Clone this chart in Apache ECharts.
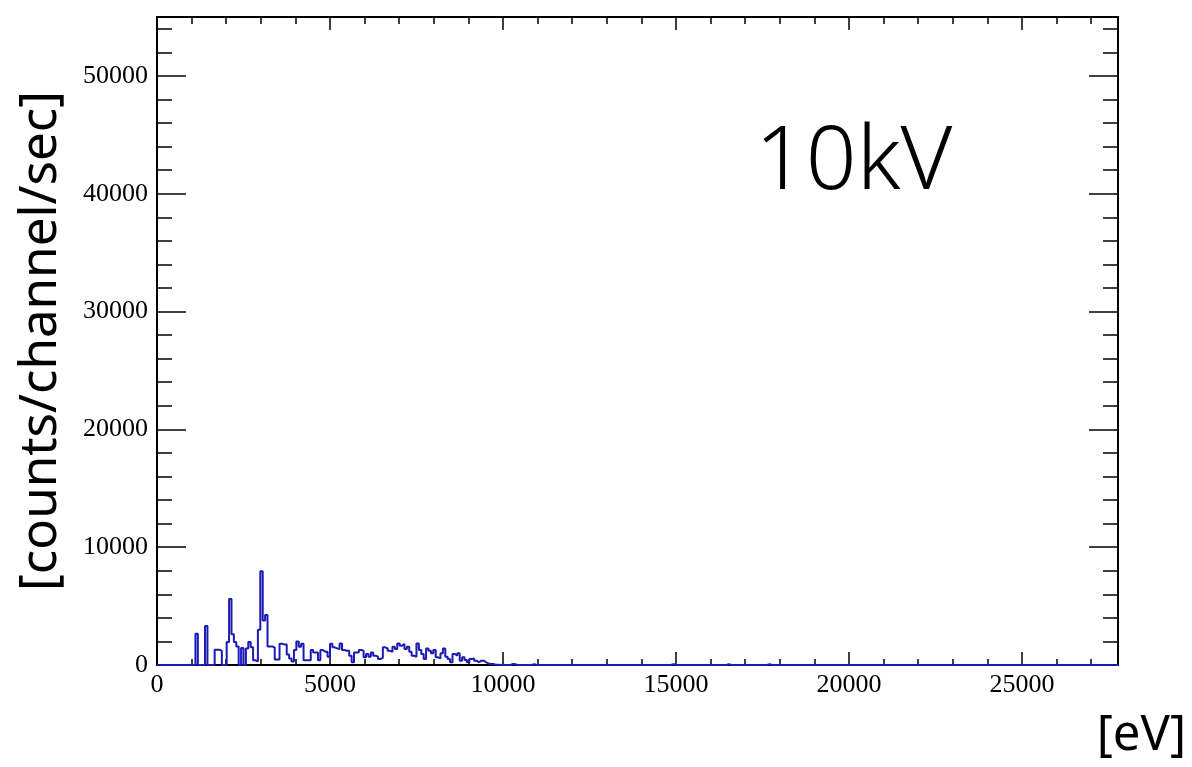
<!DOCTYPE html>
<html>
<head>
<meta charset="utf-8">
<title>10kV spectrum</title>
<script src="https://cdn.jsdelivr.net/npm/echarts@6/dist/echarts.min.js"></script>
<style>
  html, body { margin: 0; padding: 0; background: #ffffff; }
  #chart { width: 1192px; height: 767px; }
</style>
</head>
<body>
<div id="chart"></div>
<script>
// Spectrum: counts per channel per second, 400 channels over the energy range
const binWidth = 69.44;          // eV per channel
const channelCount = 400;
const xMax = 27776;              // eV, upper edge of the last channel
const yMax = 55000;

// channel index -> counts/channel/sec (channels not listed are empty)
const peakChannels = [16, 20, 24, 25, 26, 29, 30, 31, 32, 33, 35, 37, 38, 39, 40, 41, 42, 43, 44, 45, 46, 47, 48, 49, 50];
const peakCounts   = [2650, 3300, 1300, 1300, 1200, 1950, 5600, 2600, 1950, 1570, 1450, 1400, 1950, 1500, 400, 300, 3000, 7950, 3770, 4250, 1570, 1570, 1500, 460, 460];

// continuum, channels 51 .. 143
const continuumStart = 51;
const continuumCounts = [
  1800, 1750, 1750, 900, 560, 300, 1270, 2000, 1550, 1800,
  400, 400, 400, 1270, 1070, 1070, 400, 1270, 1130, 1130,
  700, 1800, 1500, 1410, 1350, 1830, 1270, 1210, 1210, 790,
  230, 1070, 1070, 1270, 1210, 650, 930, 700, 1070, 790,
  700, 510, 600, 1500, 1400, 1200, 1130, 1550, 1350, 1830,
  1640, 1780, 1350, 1550, 1130, 790, 700, 1830, 1270, 930,
  510, 1410, 1210, 990, 1270, 650, 560, 990, 1410, 700,
  510, 230, 930, 790, 990, 370, 650, 420, 230, 510,
  560, 370, 230, 370, 370, 230, 140, 80, 80, 30,
  30, 0, 30
];

// isolated weak channels in the high-energy tail
const tailChannels = [147, 148, 156, 214, 237, 254];
const tailCounts   = [80, 80, 80, 80, 80, 80];

// assemble the full channel array
const counts = new Array(channelCount).fill(0);
peakChannels.forEach((c, k) => { counts[c] = peakCounts[k]; });
continuumCounts.forEach((v, k) => { counts[continuumStart + k] = v; });
tailChannels.forEach((c, k) => { counts[c] = tailCounts[k]; });

// left edges of each channel, plus the closing edge, for a stepped outline
const histPoints = counts.map((v, i) => [i * binWidth, v]);
histPoints.push([channelCount * binWidth, counts[channelCount - 1]]);

const serif = '"Liberation Serif", "Times New Roman", serif';
const sans = '"Noto Sans", "DejaVu Sans", sans-serif';
const plainNumber = v => String(Math.round(v));

function xAxisDef(position, interval, tickLen, withLabels, withLine) {
  return {
    type: 'value', position, min: 0, max: xMax, interval,
    axisLine: { show: withLine, onZero: false, lineStyle: { color: '#000', width: 2 } },
    axisTick: { show: true, inside: true, length: tickLen, lineStyle: { color: '#000', width: 1.5 } },
    axisLabel: {
      show: withLabels, showMaxLabel: false, margin: 7, formatter: plainNumber,
      fontFamily: serif, fontSize: 26, color: '#000'
    },
    splitLine: { show: false }
  };
}

function yAxisDef(position, interval, tickLen, withLabels, withLine) {
  return {
    type: 'value', position, min: 0, max: yMax, interval,
    axisLine: { show: withLine, onZero: false, lineStyle: { color: '#000', width: 2 } },
    axisTick: { show: true, inside: true, length: tickLen, lineStyle: { color: '#000', width: 1.5 } },
    axisLabel: {
      show: withLabels, showMaxLabel: false, margin: 9, formatter: plainNumber,
      fontFamily: serif, fontSize: 26, color: '#000'
    },
    splitLine: { show: false }
  };
}

const chart = echarts.init(document.getElementById('chart'), null, { renderer: 'canvas' });

const yMain = yAxisDef('left', 10000, 29, true, true);
yMain.name = '[counts/channel/sec]';
yMain.nameLocation = 'middle';
yMain.nameGap = 90;
yMain.nameTextStyle = { fontFamily: sans, fontSize: 51, color: '#000' };

chart.setOption({
  animation: false,
  backgroundColor: '#ffffff',
  grid: { left: 157, right: 74, top: 17, bottom: 102, containLabel: false },
  xAxis: [
    xAxisDef('bottom', 5000, 13, true, true),
    xAxisDef('bottom', 1000, 6, false, false),
    xAxisDef('top', 5000, 13, false, true),
    xAxisDef('top', 1000, 7, false, false)
  ],
  yAxis: [
    yMain,
    yAxisDef('left', 2000, 15, false, false),
    yAxisDef('right', 10000, 29, false, true),
    yAxisDef('right', 2000, 15, false, false)
  ],
  series: [{
    type: 'line',
    xAxisIndex: 0,
    yAxisIndex: 0,
    step: 'end',
    symbol: 'none',
    data: histPoints,
    lineStyle: { color: '#1a1ab4', width: 2 },
    z: 3
  }],
  graphic: [
    {
      type: 'text', left: 755, top: 119,
      style: { text: '10kV', font: '300 89px "Noto Sans", "DejaVu Sans", sans-serif', fill: '#000' }
    },
    {
      type: 'text', right: 6, top: 712,
      style: { text: '[eV]', font: '49px "Noto Sans", "DejaVu Sans", sans-serif', fill: '#000' }
    }
  ]
});
</script>
</body>
</html>
